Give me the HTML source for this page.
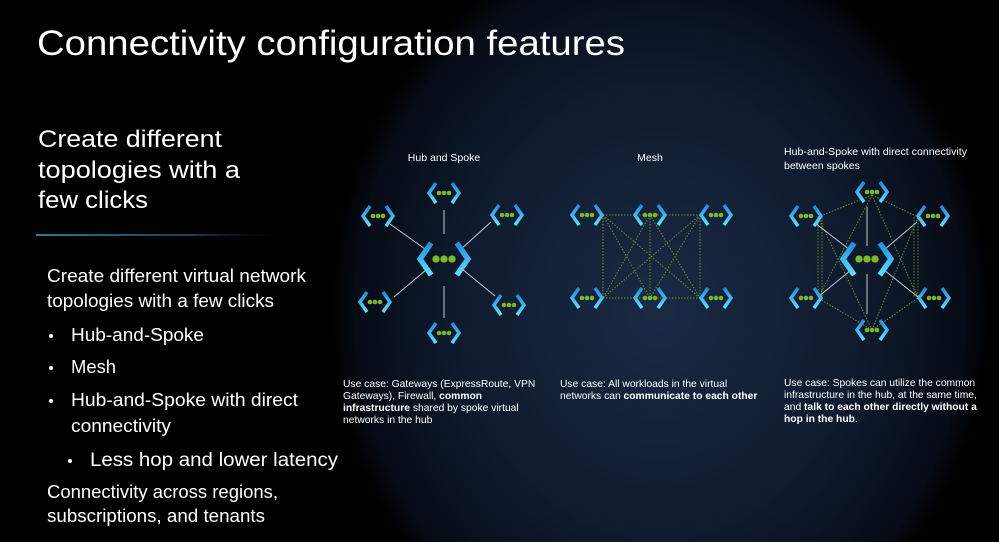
<!DOCTYPE html>
<html><head><meta charset="utf-8"><style>
html,body{margin:0;padding:0;background:#000;}
svg{display:block;}
text{font-family:"Liberation Sans","DejaVu Sans",sans-serif;fill:#fff;}
</style></head><body>
<svg width="999" height="542" viewBox="0 0 999 542" xmlns="http://www.w3.org/2000/svg">
<defs>
<radialGradient id="bg" cx="660" cy="310" r="340" gradientUnits="userSpaceOnUse" gradientTransform="translate(660 310) scale(0.97 1.1) translate(-660 -310)">
<stop offset="0" stop-color="#1a2a44"/>
<stop offset="0.6" stop-color="#0f1b2e"/>
<stop offset="0.92" stop-color="#060c16"/>
<stop offset="1" stop-color="#000"/>
</radialGradient>
<linearGradient id="dv" x1="0" x2="1" y1="0" y2="0">
<stop offset="0" stop-color="#2a7d94"/><stop offset="0.6" stop-color="#1a3f52"/><stop offset="1" stop-color="#000" stop-opacity="0"/>
</linearGradient>
<linearGradient id="cl" x1="0" y1="0" x2="0" y2="1">
<stop offset="0" stop-color="#1d8fe0"/><stop offset="1" stop-color="#5fe0ff"/>
</linearGradient>
<g id="vn">
<path d="M-8,-10 L-15,0 L-8,10" fill="none" stroke="url(#cl)" stroke-width="3.4"/>
<path d="M8,-10 L15,0 L8,10" fill="none" stroke="url(#cl)" stroke-width="3.4"/>
<circle cx="-5" cy="0" r="2.3" fill="#7ab827"/><circle cx="0" cy="0" r="2.3" fill="#7ab827"/><circle cx="5" cy="0" r="2.3" fill="#7ab827"/>
</g>
</defs>
<rect width="999" height="542" fill="#000"/>
<rect width="999" height="542" fill="url(#bg)"/>

<text x="37" y="55" font-size="35" textLength="588" lengthAdjust="spacingAndGlyphs">Connectivity configuration features</text>

<g font-size="24">
<text x="38" y="147" textLength="184" lengthAdjust="spacingAndGlyphs">Create different</text>
<text x="38" y="178" textLength="202" lengthAdjust="spacingAndGlyphs">topologies with a</text>
<text x="38" y="208" textLength="110" lengthAdjust="spacingAndGlyphs">few clicks</text>
</g>
<rect x="36" y="234" width="260" height="2" fill="url(#dv)"/>

<g font-size="18">
<text x="47" y="282" textLength="259" lengthAdjust="spacingAndGlyphs">Create different virtual network</text>
<text x="47" y="307" textLength="227" lengthAdjust="spacingAndGlyphs">topologies with a few clicks</text>
<text x="71" y="341" textLength="133" lengthAdjust="spacingAndGlyphs">Hub-and-Spoke</text>
<text x="71" y="373" textLength="45" lengthAdjust="spacingAndGlyphs">Mesh</text>
<text x="71" y="406" textLength="227" lengthAdjust="spacingAndGlyphs">Hub-and-Spoke with direct</text>
<text x="71" y="432" textLength="100" lengthAdjust="spacingAndGlyphs">connectivity</text>
<text x="90" y="466" font-size="19" textLength="248" lengthAdjust="spacingAndGlyphs">Less hop and lower latency</text>
<text x="47" y="498" textLength="231" lengthAdjust="spacingAndGlyphs">Connectivity across regions,</text>
<text x="47" y="522" textLength="218" lengthAdjust="spacingAndGlyphs">subscriptions, and tenants</text>
</g>
<g fill="#fff"><circle cx="51" cy="336" r="2"/><circle cx="51" cy="368" r="2"/><circle cx="51" cy="401" r="2"/><circle cx="70" cy="461" r="2"/></g>

<g font-size="10.5">
<text x="444" y="161" text-anchor="middle">Hub and Spoke</text>
<text x="650" y="161" text-anchor="middle">Mesh</text>
<text x="784" y="155" textLength="183" lengthAdjust="spacingAndGlyphs">Hub-and-Spoke with direct connectivity</text>
<text x="784" y="169">between spokes</text>
</g>

<g stroke="#c8c8c8" stroke-width="1">
<line x1="444" y1="210" x2="444" y2="234"/><line x1="444" y1="286" x2="444" y2="318"/>
<line x1="390" y1="224" x2="425" y2="249"/><line x1="491" y1="222" x2="460" y2="250"/>
<line x1="394" y1="297" x2="426" y2="270"/><line x1="495" y1="296" x2="462" y2="269"/>
</g>
<use href="#vn" x="444" y="193"/><use href="#vn" x="378" y="216"/><use href="#vn" x="507" y="215"/>
<use href="#vn" x="375" y="302"/><use href="#vn" x="509" y="305"/><use href="#vn" x="444" y="333"/>
<use href="#vn" transform="translate(444 259) scale(1.6)"/>

<g stroke="#6a8a2a" stroke-width="1" stroke-dasharray="1.5 1.5">
<line x1="603" y1="215" x2="700" y2="215"/><line x1="603" y1="298" x2="700" y2="298"/>
<line x1="603" y1="215" x2="603" y2="298"/><line x1="650" y1="215" x2="650" y2="298"/><line x1="700" y1="215" x2="700" y2="298"/>
<line x1="603" y1="215" x2="650" y2="298"/><line x1="603" y1="215" x2="700" y2="298"/>
<line x1="650" y1="215" x2="603" y2="298"/><line x1="650" y1="215" x2="700" y2="298"/>
<line x1="700" y1="215" x2="603" y2="298"/><line x1="700" y1="215" x2="650" y2="298"/>
</g>
<use href="#vn" x="587" y="215"/><use href="#vn" x="650" y="215"/><use href="#vn" x="716" y="215"/>
<use href="#vn" x="587" y="298"/><use href="#vn" x="650" y="298"/><use href="#vn" x="716" y="298"/>

<g stroke="#6a8a2a" stroke-width="1" stroke-dasharray="1.5 1.5">
<line x1="872" y1="195" x2="818" y2="217"/><line x1="872" y1="195" x2="918" y2="217"/>
<line x1="872" y1="195" x2="818" y2="298"/><line x1="872" y1="195" x2="918" y2="298"/>
<line x1="872" y1="330" x2="818" y2="298"/><line x1="872" y1="330" x2="918" y2="298"/>
<line x1="872" y1="330" x2="818" y2="217"/><line x1="872" y1="330" x2="918" y2="217"/>
<line x1="818" y1="217" x2="818" y2="298"/><line x1="918" y1="217" x2="918" y2="298"/>
<line x1="822" y1="217" x2="822" y2="298"/><line x1="914" y1="217" x2="914" y2="298"/>
</g>
<g stroke="#c8c8c8" stroke-width="1">
<line x1="867" y1="207" x2="867" y2="246"/><line x1="867" y1="274" x2="867" y2="314"/>
<line x1="815" y1="223" x2="850" y2="250"/><line x1="917" y1="222" x2="884" y2="250"/>
<line x1="818" y1="297" x2="851" y2="270"/><line x1="918" y1="297" x2="884" y2="270"/>
</g>
<use href="#vn" x="872" y="192"/><use href="#vn" x="806" y="216"/><use href="#vn" x="933" y="216"/>
<use href="#vn" x="806" y="298"/><use href="#vn" x="934" y="298"/><use href="#vn" x="872" y="330"/>
<use href="#vn" transform="translate(867 259) scale(1.6)"/>

<g font-size="10.3">
<text x="343" y="387">Use case: Gateways (ExpressRoute, VPN</text>
<text x="343" y="399">Gateways), Firewall, <tspan font-weight="bold">common</tspan></text>
<text x="343" y="411"><tspan font-weight="bold">infrastructure</tspan> shared by spoke virtual</text>
<text x="343" y="423">networks in the hub</text>
<text x="560" y="387">Use case: All workloads in the virtual</text>
<text x="560" y="399">networks can <tspan font-weight="bold">communicate to each other</tspan></text>
<text x="784" y="386">Use case: Spokes can utilize the common</text>
<text x="784" y="398">infrastructure in the hub, at the same time,</text>
<text x="784" y="410">and <tspan font-weight="bold">talk to each other directly without a</tspan></text>
<text x="784" y="422"><tspan font-weight="bold">hop in the hub</tspan>.</text>
</g>
</svg>
</body></html>
